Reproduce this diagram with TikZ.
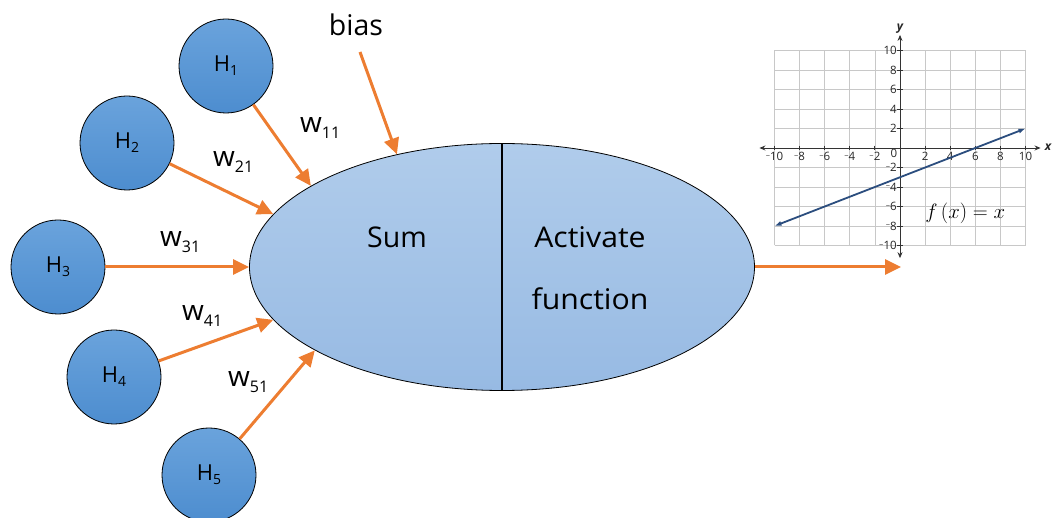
\documentclass[tikz,border=0pt]{standalone}
\usepackage{fontspec}
\setmainfont{Open Sans}
\usetikzlibrary{shapes.geometric,arrows.meta}

\definecolor{wire}{HTML}{ED7D31}
\definecolor{celltop}{HTML}{6AA3DC}
\definecolor{cellbot}{HTML}{4D8DCF}
\definecolor{bodytop}{HTML}{B0CCEB}
\definecolor{bodybot}{HTML}{97BAE3}
\definecolor{plotline}{HTML}{2B4D7E}
\definecolor{gridgray}{HTML}{C8C8C8}

% subscripted labels
\newcommand\hlab[1]{H\raisebox{-4pt}{\fontsize{14}{14}\selectfont #1}}
\newcommand\wlab[1]{w\raisebox{-6pt}{\fontsize{16}{16}\selectfont #1}}
\newcommand\negnum[1]{\raisebox{2.5pt}{\fontsize{7.5}{7.5}\selectfont −}#1}

\tikzset{
  cell/.style={circle, draw=black, line width=0.8pt, minimum size=94pt, inner sep=0pt,
    top color=celltop, bottom color=cellbot, font=\fontsize{22}{22}\selectfont},
  body/.style={ellipse, draw=black, line width=0.8pt, minimum width=505pt, minimum height=247pt,
    inner sep=0pt, top color=bodytop, bottom color=bodybot},
  wire/.style={draw=wire, line width=3pt, -{Triangle[length=16pt,width=15pt]}},
  bigtext/.style={font=\fontsize{28.5}{28.5}\selectfont, inner sep=0pt, anchor=base},
  wtext/.style={font=\fontsize{28}{28}\selectfont, inner sep=0pt, anchor=base west},
  gridline/.style={draw=gridgray, line width=0.8pt},
  axisline/.style={draw=black!80, line width=0.9pt},
  ticktext/.style={font=\fontsize{11.5}{11.5}\selectfont, text=black!85, inner sep=0pt},
}

\begin{document}
\begin{tikzpicture}[x=1pt,y=-1pt]
\useasboundingbox (0,0) rectangle (1053,518);

% neuron body
\node[body] (neuron) at (502,267) {};
\draw[line width=1.1pt] (neuron.north) -- (neuron.south);
\node[bigtext] (sum) at (397,248) {Sum};
\node[bigtext] (act) at (590,248) {\scalebox{1.06}[1]{Activate}};
\node[bigtext] (fun) at (590,310) {\scalebox{1.06}[1]{function}};

% inputs
\node[cell] (h1) at (226,66) {\hlab{1}};
\node[cell] (h2) at (127,143) {\hlab{2}};
\node[cell] (h3) at (58,267) {\hlab{3}};
\node[cell] (h4) at (114,377) {\hlab{4}};
\node[cell] (h5) at (209,475) {\hlab{5}};

\draw[wire] (h1) -- (neuron.157);
\draw[wire] (h2) -- (neuron.167);
\draw[wire] (h3) -- (neuron.180);
\draw[wire] (h4) -- (neuron.193);
\draw[wire] (h5) -- (neuron.204);

\node[wtext] (w11) at (300,133) {\wlab{11}};
\node[wtext] (w21) at (213,167) {\wlab{21}};
\node[wtext] (w31) at (160,247) {\wlab{31}};
\node[wtext] (w41) at (182,321) {\wlab{41}};
\node[wtext] (w51) at (228,387) {\wlab{51}};

% bias
\node[bigtext] (bias) at (356,36) {bias};
\coordinate (biasstart) at (360,52);
\draw[wire] (biasstart) -- (neuron.133);

% output
\coordinate (out) at (901,267);
\draw[wire] (neuron.east) -- (out);

% activation plot
\begin{scope}[shift={(900,148)}, x=12.55pt, y=9.75pt]
  \fill[white] (-10,-10) rectangle (10,10);
  \foreach \v in {-10,-8,...,10} {
    \draw[gridline] (\v,-10) -- (\v,10);
    \draw[gridline] (-10,\v) -- (10,\v);
  }
  \draw[axisline, {Stealth[length=6pt,width=5pt]}-{Stealth[length=6pt,width=5pt]}] (-11.2,0) -- (11.2,0);
  \draw[axisline, {Stealth[length=6pt,width=5pt]}-{Stealth[length=6pt,width=5pt]}] (0,-11.3) -- (0,11.6);
  \foreach \v in {-10,-8,...,10} {
    \draw[axisline] (\v,0.25) -- (\v,-0.25);
    \draw[axisline] (-0.2,\v) -- (0.2,\v);
  }
  \foreach \v in {-10,-8,...,-2} {
    \pgfmathtruncatemacro\a{abs(\v)}
    \node[ticktext, anchor=north] (xl\a n) at (\v,-0.45) {\negnum{\a}};
    \node[ticktext, anchor=east] (yl\a n) at (-0.25,\v) {\negnum{\a}};
  }
  \foreach \v in {2,4,...,10} {
    \node[ticktext, anchor=north] (xl\v) at (\v,-0.45) {\v};
    \node[ticktext, anchor=east] (yl\v) at (-0.25,\v) {\v};
  }
  \node[ticktext, anchor=north east] (zero) at (-0.2,-0.15) {0};
  \node[font=\fontsize{12}{12}\selectfont\itshape\bfseries, text=black!85, inner sep=0pt] (xname) at (11.8,0.05) {x};
  \node[font=\fontsize{12}{12}\selectfont\itshape\bfseries, text=black!85, inner sep=0pt] (yname) at (0,12.2) {y};
  \draw[plotline, line width=1.8pt, {Latex[length=7pt,width=5pt]}-{Latex[length=7pt,width=5pt]}] (-10,-8) -- (10,2);
  \node[font=\fontsize{22}{22}\selectfont, inner sep=0pt] (fx) at (5.2,-6.7) {$f\,(x) = x$};
\end{scope}
\end{tikzpicture}
\end{document}
